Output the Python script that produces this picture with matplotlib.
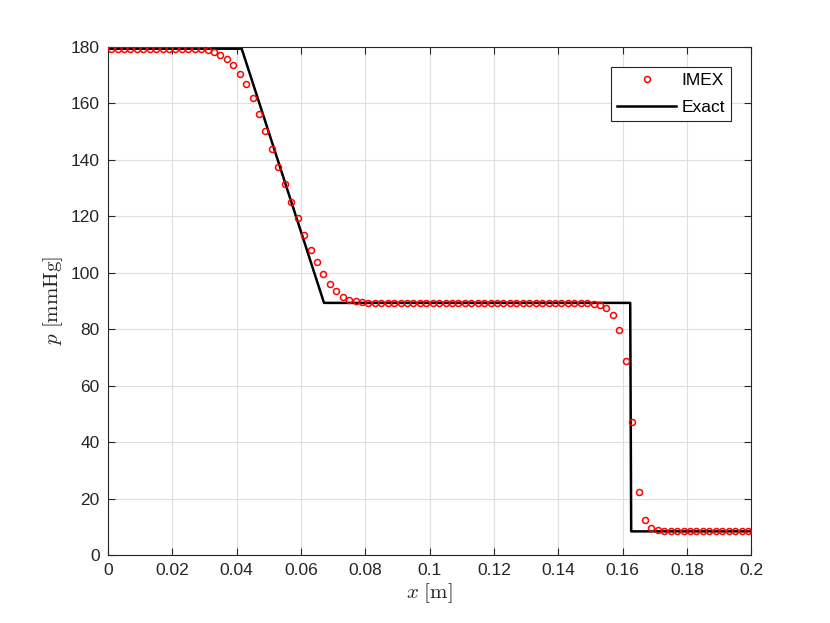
import numpy as np
import matplotlib
matplotlib.use('Agg')
import matplotlib.pyplot as plt

# IMEX cell-centred solution (dx = 0.002 m, 100 cells)
dx = 0.002
n_cells = 100
x_imex = np.arange(n_cells) * dx + dx / 2
p_imex = ([179.3] * 14 + [179.1, 178.7, 178.0, 177.1, 175.7, 173.6, 170.5, 166.8,
          162.0, 156.3, 150.0, 143.7, 137.4, 131.3, 125.1, 119.4, 113.5, 108.2,
          103.6, 99.4, 95.9, 93.5, 91.5, 90.4, 90.0, 89.5]
          + [89.3] * 35
          + [89.0, 88.4, 87.4, 84.9, 79.8, 68.9, 47.2, 22.2, 12.3, 9.6, 9.0]
          + [8.6] * 14)

# exact solution breakpoints
x_exact = [0.0, 0.0416, 0.0672, 0.1624, 0.1627, 0.2]
p_exact = [179.3, 179.3, 89.3, 89.3, 8.4, 8.4]

x_ticks = [0, 0.02, 0.04, 0.06, 0.08, 0.1, 0.12, 0.14, 0.16, 0.18, 0.2]
x_ticklabels = ['0', '0.02', '0.04', '0.06', '0.08', '0.1', '0.12', '0.14', '0.16', '0.18', '0.2']
y_ticks = list(range(0, 181, 20))

plt.rcParams['font.family'] = ['Liberation Sans', 'DejaVu Sans']
plt.rcParams['mathtext.fontset'] = 'cm'

fig = plt.figure(figsize=(8.3, 6.23), dpi=100)
ax = fig.add_axes([0.13, 0.109, 0.775, 0.816])

ax.plot(x_imex, p_imex, 'o', markersize=4.3, markerfacecolor='none',
        markeredgecolor='#ff0000', markeredgewidth=1.1, label='IMEX', zorder=3)
ax.plot(x_exact, p_exact, '-', color='black', linewidth=1.8, label='Exact', zorder=2)

ax.set_xlim(0, 0.2)
ax.set_ylim(0, 180)
ax.set_xticks(x_ticks)
ax.set_xticklabels(x_ticklabels)
ax.set_yticks(y_ticks)
ax.tick_params(direction='in', top=True, right=True, length=5, width=0.8,
               labelsize=12.5, colors='#262626', pad=6)
for s in ax.spines.values():
    s.set_color('#262626')
    s.set_linewidth(0.8)
ax.grid(True, color='#dfdfdf', linewidth=0.8)
ax.set_axisbelow(True)

ax.set_xlabel(r'$x\ [\mathrm{m}]$', fontsize=15, color='#262626', labelpad=2)
ax.set_ylabel(r'$p\ [\mathrm{mmHg}]$', fontsize=15, color='#262626', labelpad=4)

leg = ax.legend(loc='upper right', fontsize=12.5, fancybox=False, framealpha=1,
                edgecolor='#262626', borderaxespad=1.15, handlelength=3.4,
                borderpad=0.35, labelspacing=0.7, handletextpad=0.3)
leg.get_frame().set_linewidth(0.8)

fig.savefig('out.png', dpi=100)
plt.close(fig)
